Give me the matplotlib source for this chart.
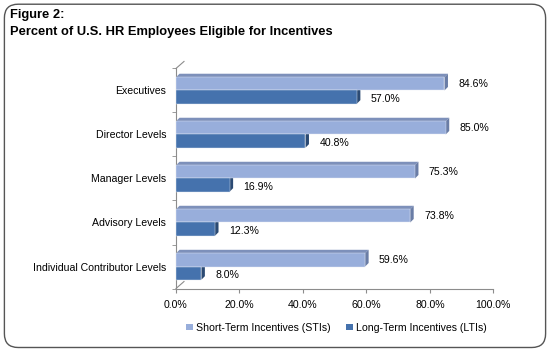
import matplotlib
matplotlib.use("Agg")
import matplotlib.pyplot as plt
from matplotlib.patches import Polygon, Patch, FancyBboxPatch
import matplotlib.transforms as mtransforms

plt.rcParams['font.family'] = ['Liberation Sans', 'DejaVu Sans']

# data
categories = ["Executives", "Director Levels", "Manager Levels",
              "Advisory Levels", "Individual Contributor Levels"]
sti = [84.6, 85.0, 75.3, 73.8, 59.6]
lti = [57.0, 40.8, 16.9, 12.3, 8.0]
series_names = ["Short-Term Incentives (STIs)", "Long-Term Incentives (LTIs)"]
xticks = [0, 20, 40, 60, 80, 100]

# colours (front, top, end cap)
sti_cols = ("#98aedb", "#7d90ba", "#6a7da6")
lti_cols = ("#4572ad", "#365c8e", "#2b4a73")
axis_grey = "#8c8c8c"
fs = 7.6

fig = plt.figure(figsize=(5.5, 3.51), dpi=100)
fig.patch.set_facecolor("white")

# rounded frame around the whole figure
frame = FancyBboxPatch((0.008, 0.01), 0.984, 0.978, boxstyle="round,pad=0,rounding_size=0.025",
                       transform=fig.transFigure, facecolor="none", edgecolor="#555555",
                       linewidth=1.0, mutation_aspect=550 / 351)
fig.patches.append(frame)

fig.text(0.018, 0.958, "Figure 2:", fontsize=9.3, fontweight="bold", va="center")
fig.text(0.018, 0.91, "Percent of U.S. HR Employees Eligible for Incentives",
         fontsize=9.3, fontweight="bold", va="center")

ax = fig.add_axes([0.32, 0.178, 0.577, 0.627])
ax.set_xlim(0, 100)
ax.set_ylim(len(categories) - 0.5, -0.5)

h = 0.3
dx = 1.1    # depth in data units (x)
dy = 0.08   # depth in category units (y)


def bar3d(v, y0, cols, top=True):
    # y0 = top edge (smaller value since axis inverted)
    front, topc, endc = cols
    if top:
        ax.add_patch(Polygon([(0, y0), (v, y0), (v + dx, y0 - dy), (dx, y0 - dy)],
                             closed=True, facecolor=topc, edgecolor="none", zorder=2))
    ax.add_patch(Polygon([(v, y0), (v + dx, y0 - dy), (v + dx, y0 + h - dy), (v, y0 + h)],
                         closed=True, facecolor=endc, edgecolor="none", zorder=2))
    ax.barh(y0 + h / 2, v, height=h, color=front, edgecolor="#e6ebf4", linewidth=0.3, zorder=3)


for i, (s, l) in enumerate(zip(sti, lti)):
    bar3d(s, i - h, sti_cols, top=True)
    bar3d(l, i, lti_cols, top=False)
    ax.annotate(f"{s:.1f}%", (s, i - h / 2), xytext=(10, 0), textcoords="offset points",
                va="center", ha="left", fontsize=fs)
    ax.annotate(f"{l:.1f}%", (l, i + h / 2 + 0.05), xytext=(10, 0), textcoords="offset points",
                va="center", ha="left", fontsize=fs)

ax.set_yticks(range(len(categories)))
ax.set_yticklabels(categories, fontsize=fs)
offset = mtransforms.ScaledTranslation(0, -4 / 100, fig.dpi_scale_trans)
for lab in ax.get_yticklabels():
    lab.set_transform(lab.get_transform() + offset)
ax.set_yticks([i + 0.5 for i in range(-1, len(categories))], minor=True)
ax.tick_params(axis="y", which="major", length=0, pad=7)
ax.tick_params(axis="y", which="minor", length=3, color=axis_grey, direction="out")

ax.set_xticks(xticks)
ax.set_xticklabels([f"{t:.1f}%" for t in xticks], fontsize=fs)
ax.tick_params(axis="x", length=3, color=axis_grey, direction="out", pad=5)

for sp in ["top", "right"]:
    ax.spines[sp].set_visible(False)
for sp in ["left", "bottom"]:
    ax.spines[sp].set_color(axis_grey)
    ax.spines[sp].set_linewidth(0.8)

# 3d wall / floor diagonals
for yb in (0.0, 1.0):
    p0 = ax.transAxes.transform((0, yb))
    p1 = p0 + (8, 7)
    fig.add_artist(plt.Line2D([p0[0], p1[0]], [p0[1], p1[1]], transform=None,
                              color=axis_grey, linewidth=0.8))

handles = [Patch(facecolor=sti_cols[0]), Patch(facecolor=lti_cols[0])]
fig.legend(handles, series_names, loc="center", bbox_to_anchor=(0.612, 0.066), ncol=2,
           frameon=False, fontsize=fs, handlelength=0.6, handleheight=0.6,
           handletextpad=0.3, columnspacing=1.5)

fig.savefig("out.png", dpi=100)
